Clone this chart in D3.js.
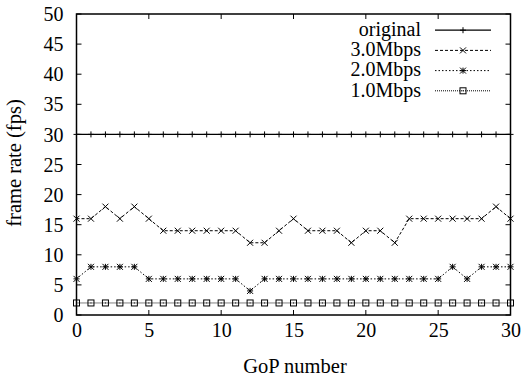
<!DOCTYPE html>
<html><head><meta charset="utf-8">
<script src="https://cdn.jsdelivr.net/npm/d3@7"></script>
<style>body{margin:0;background:#fff}svg{display:block}svg text{font-family:'Liberation Serif',serif !important}</style>
</head><body><svg id="c" width="528" height="383"></svg>
<script>
const gop = d3.range(0, 31);
const original = [30,30,30,30,30,30,30,30,30,30,30,30,30,30,30,30,30,30,30,30,30,30,30,30,30,30,30,30,30,30,30];
const mbps3 = [16,16,18,16,18,16,14,14,14,14,14,14,12,12,14,16,14,14,14,12,14,14,12,16,16,16,16,16,16,18,16];
const mbps2 = [6,8,8,8,8,6,6,6,6,6,6,6,4,6,6,6,6,6,6,6,6,6,6,6,6,6,8,6,8,8,8];
const mbps1 = [2,2,2,2,2,2,2,2,2,2,2,2,2,2,2,2,2,2,2,2,2,2,2,2,2,2,2,2,2,2,2];
const seriesNames = ["original","3.0Mbps","2.0Mbps","1.0Mbps"];
const xTicks = [0,5,10,15,20,25,30];
const yTicks = [0,5,10,15,20,25,30,35,40,45,50];

const series = [
  {name: seriesNames[0], vals: original, dash: null, sym: "plus", w: 1.2},
  {name: seriesNames[1], vals: mbps3, dash: "3,2", sym: "cross", w: 1},
  {name: seriesNames[2], vals: mbps2, dash: "1.5,2", sym: "star", w: 1},
  {name: seriesNames[3], vals: mbps1, dash: "1,1", sym: "box", w: 1}
];

const svg = d3.select("#c");
const L = 76.5, R = 510.5, T = 14, B = 315;
const x = d3.scaleLinear().domain([0,30]).range([L,R]);
const y = d3.scaleLinear().domain([0,50]).range([B,T]);

function styleText(sel, size) {
  return sel.attr("font-family", "Liberation Serif")
    .style("font-family", "'Liberation Serif', serif", "important")
    .style("font-size", (size || 20) + "px").attr("fill", "#000");
}

function drawSym(g, type, cx, cy) {
  const s = 3;
  if (type === "plus" || type === "star") {
    g.append("path").attr("d", `M${cx-s},${cy}H${cx+s}M${cx},${cy-s}V${cy+s}`).attr("stroke","#000").attr("stroke-width",1);
  }
  if (type === "cross" || type === "star") {
    g.append("path").attr("d", `M${cx-s},${cy-s}L${cx+s},${cy+s}M${cx-s},${cy+s}L${cx+s},${cy-s}`).attr("stroke","#000").attr("stroke-width",1);
  }
  if (type === "box") {
    g.append("rect").attr("x",cx-3).attr("y",cy-3).attr("width",6).attr("height",6).attr("fill","none").attr("stroke","#000").attr("stroke-width",1);
    g.append("rect").attr("x",cx-0.5).attr("y",cy-0.5).attr("width",1).attr("height",1).attr("fill","#000");
  }
}

// ticks (inward, mirrored)
const tl = 5;
const tg = svg.append("g").attr("stroke","#000").attr("stroke-width",1);
xTicks.forEach(t => {
  tg.append("line").attr("x1",x(t)).attr("x2",x(t)).attr("y1",B).attr("y2",B-tl);
  tg.append("line").attr("x1",x(t)).attr("x2",x(t)).attr("y1",T).attr("y2",T+tl);
});
yTicks.forEach(t => {
  tg.append("line").attr("x1",L).attr("x2",L+tl).attr("y1",y(t)).attr("y2",y(t));
  tg.append("line").attr("x1",R).attr("x2",R-tl).attr("y1",y(t)).attr("y2",y(t));
});

// tick labels
const xAxis = d3.axisBottom(x).tickValues(xTicks).tickSize(0).tickPadding(0);
const gx = svg.append("g").attr("transform",`translate(0,${B})`).call(xAxis);
gx.attr("font-family", null).attr("font-size", null);
gx.select(".domain").remove();
styleText(gx.selectAll("text")).attr("dy",null).attr("y",22);
const yAxis = d3.axisLeft(y).tickValues(yTicks).tickSize(0).tickPadding(0);
const gy = svg.append("g").attr("transform",`translate(${L-13},0)`).call(yAxis);
gy.attr("font-family", null).attr("font-size", null);
gy.select(".domain").remove();
styleText(gy.selectAll("text")).attr("dy","0.33em");

// data
const line = d3.line().x((d,i)=>x(gop[i])).y(d=>y(d));
series.forEach(s => {
  const g = svg.append("g");
  g.append("path").attr("d", line(s.vals)).attr("fill","none").attr("stroke","#000").attr("stroke-width",s.w).attr("stroke-dasharray",s.dash);
  s.vals.forEach((v,i) => drawSym(g, s.sym, x(gop[i]), y(v)));
});

// frame
svg.append("rect").attr("x",L).attr("y",T).attr("width",R-L).attr("height",B-T).attr("fill","none").attr("stroke","#000").attr("stroke-width",1.5);

// legend
const lb0 = 36, ldy = 20.2;
series.forEach((s,i) => {
  const lb = lb0 + i*ldy;
  const ly = lb - 5.8;
  styleText(svg.append("text")).attr("x",421).attr("y",lb).attr("text-anchor","end").text(s.name);
  const g = svg.append("g");
  g.append("line").attr("x1",435).attr("x2",491).attr("y1",ly).attr("y2",ly).attr("stroke","#000").attr("stroke-width",s.w).attr("stroke-dasharray",s.dash);
  drawSym(g, s.sym, 463, ly);
});

// axis titles
styleText(svg.append("text"), 20.5).attr("x",295).attr("y",373).attr("text-anchor","middle").text("GoP number");
styleText(svg.append("text"), 20.5).attr("transform",`translate(21,163) rotate(-90)`).attr("text-anchor","middle").text("frame rate (fps)");
</script></body></html>
